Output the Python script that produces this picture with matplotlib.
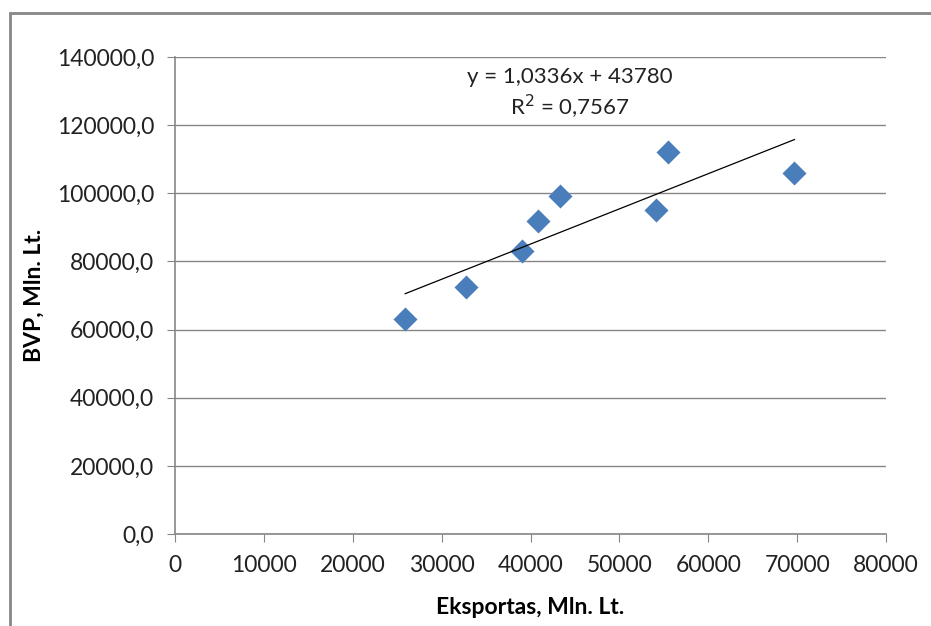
import numpy as np
import matplotlib
matplotlib.use('Agg')
import matplotlib.pyplot as plt
from matplotlib.patches import Rectangle
from matplotlib.ticker import FuncFormatter

# Eksportas (Mln. Lt.) vs BVP (Mln. Lt.)
eksportas = [25900, 32700, 39000, 40800, 43300, 54100, 55500, 69700]
bvp = [63000, 72500, 83200, 92000, 99200, 95200, 112000, 106000]

x_ticks = [0, 10000, 20000, 30000, 40000, 50000, 60000, 70000, 80000]
y_ticks = [0, 20000, 40000, 60000, 80000, 100000, 120000, 140000]

plt.rcParams['font.family'] = ['Lato', 'DejaVu Sans']

fig = plt.figure(figsize=(9.31, 6.26), dpi=100)
# outer chart frame (cut by the image edges at right and bottom)
fig.patches.append(Rectangle((10 / 931, -0.1), 1.1, (626 - 13) / 626 + 0.1,
                             transform=fig.transFigure, fill=False,
                             edgecolor='#868686', linewidth=2))

ax = fig.add_axes([175 / 931, 92 / 626, 711 / 931, 477 / 626])
ax.scatter(eksportas, bvp, marker='D', s=150, color='#4a7ebb', zorder=3, linewidths=0)

# linear trendline
coef = np.polyfit(eksportas, bvp, 1)
xl = np.array([min(eksportas), max(eksportas)])
ax.plot(xl, np.polyval(coef, xl), color='black', linewidth=0.9, zorder=4)

ax.text(44400, 134000, 'y = 1,0336x + 43780', ha='center', va='center', fontsize=16, color='#222222')
ax.text(44400, 125300, 'R$^2$ = 0,7567', ha='center', va='center', fontsize=16, color='#222222')

ax.set_xlim(0, 80000)
ax.set_ylim(0, 140000)
ax.set_xticks(x_ticks)
ax.set_yticks(y_ticks)
ax.yaxis.set_major_formatter(FuncFormatter(lambda v, p: f'{v:.1f}'.replace('.', ',')))
ax.xaxis.set_major_formatter(FuncFormatter(lambda v, p: f'{int(v)}'))
ax.grid(axis='y', color='#868686', linewidth=1)
ax.set_axisbelow(True)
for s in ['top', 'right']:
    ax.spines[s].set_visible(False)
for s in ['left', 'bottom']:
    ax.spines[s].set_color('#868686')
    ax.spines[s].set_linewidth(1.2)
ax.tick_params(direction='out', length=6, color='#868686', labelsize=16.5,
               labelcolor='#222222', pad=9)

ax.set_xlabel('Eksportas, Mln. Lt.', fontsize=16.5, fontweight='bold', labelpad=15)
ax.set_ylabel('BVP, Mln. Lt.', fontsize=16.5, fontweight='bold', labelpad=9)

fig.savefig('out.png', dpi=100)
